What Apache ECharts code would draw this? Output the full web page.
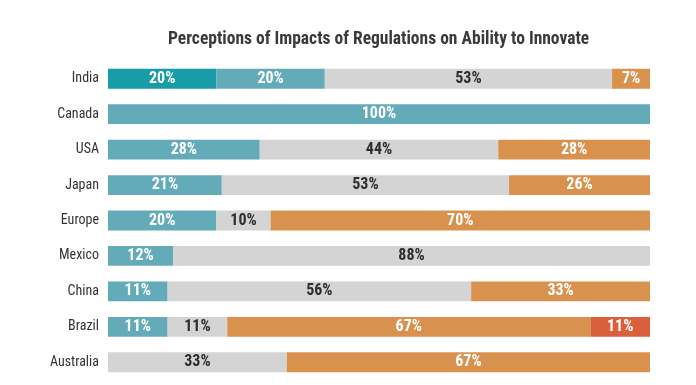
<!DOCTYPE html>
<html>
<head>
<meta charset="utf-8">
<script src="https://cdn.jsdelivr.net/npm/echarts@6/dist/echarts.min.js"></script>
<style>html,body{margin:0;padding:0;background:#fff}#c{width:696px;height:385px}</style>
</head>
<body>
<div id="c"></div>
<script>
const categories = ["India","Canada","USA","Japan","Europe","Mexico","China","Brazil","Australia"];
const veryPositive = [20, 0, 0, 0, 0, 0, 0, 0, 0];
const positive     = [20, 100, 28, 21, 20, 12, 11, 11, 0];
const neutral      = [53, 0, 44, 53, 10, 88, 56, 11, 33];
const negative     = [7, 0, 28, 26, 70, 0, 33, 67, 67];
const veryNegative = [0, 0, 0, 0, 0, 0, 0, 11, 0];
const titleText = "Perceptions of Impacts of Regulations on Ability to Innovate";

const FONT = "'Liberation Sans Narrow','Roboto Condensed','Roboto',sans-serif";
function mk(name, data, color, textColor) {
  return {
    name, type: 'bar', stack: 'all', barCategoryGap: '44%',
    data: data.map(v => v === 0 ? null : v),
    itemStyle: { color },
    label: {
      show: true, position: 'inside', formatter: p => p.value + '%',
      color: textColor, fontFamily: FONT, fontWeight: 'bold', fontSize: 16
    },
    emphasis: { disabled: true }
  };
}
const chart = echarts.init(document.getElementById('c'));
chart.setOption({
  animation: false,
  title: { text: titleText, left: 163, top: 26,
    textStyle: { fontFamily: FONT, fontWeight: 'bold', fontSize: 17.5, color: '#3a3a3a' } },
  grid: { left: 108, right: 46, top: 61, bottom: 5, containLabel: false },
  xAxis: { type: 'value', min: 0, max: 100, show: false },
  yAxis: { type: 'category', data: categories, inverse: true,
    axisLine: { show: false }, axisTick: { show: false },
    axisLabel: { fontFamily: FONT, fontSize: 14, color: '#333', margin: 9 } },
  series: [
    mk('Very positive', veryPositive, '#189ca7', '#fff'),
    mk('Positive', positive, '#64abba', '#fff'),
    mk('Neutral', neutral, '#d4d4d4', '#2e2e2e'),
    mk('Negative', negative, '#d9924d', '#fff'),
    mk('Very negative', veryNegative, '#d9603a', '#fff')
  ]
});
</script>
</body>
</html>
